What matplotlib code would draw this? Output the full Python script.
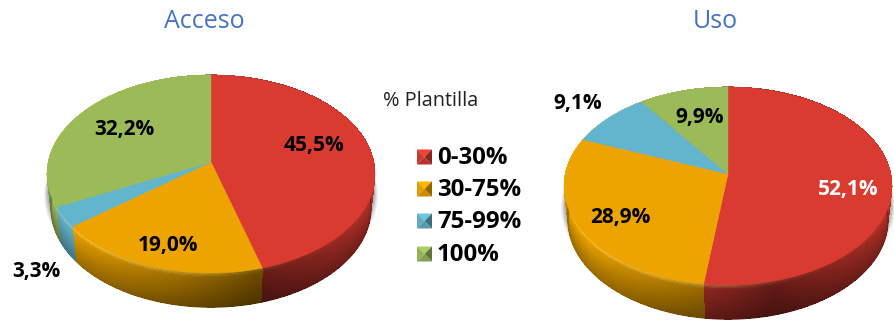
import numpy as np
import matplotlib
matplotlib.use("Agg")
import matplotlib.pyplot as plt
from matplotlib.collections import PolyCollection, LineCollection
from matplotlib.colors import to_rgb

# Data
titles = ["Acceso", "Uso"]
categories = ["0-30%", "30-75%", "75-99%", "100%"]
acceso = [45.5, 19.0, 3.3, 32.2]
uso = [52.1, 28.9, 9.1, 9.9]
colors = ["#DA3B30", "#EDA400", "#62B5CC", "#9BBB59"]
legend_title = "% Plantilla"

# Layout in pixel coordinates
W, H = 894, 323
PIE_GEOM = [(211, 162), (728, 174)]   # point where the slices meet
A, B, Q = 162.8, 97.6, 0.121          # tilted disc projection
DEPTH = 34
BASE_SCALE = 0.975                    # the lower rim edge is slightly narrower
LABEL_XY = [[(314, 146), (168, 245), (36, 272), (124, 130)],
            [(848, 189), (620, 217), (578, 103), (700, 117)]]
LABEL_COL = [["black"] * 4, ["white", "black", "black", "black"]]
TITLE_XY = [(204, 22), (715, 22)]
LEG_Y = [158, 190, 222, 255]

plt.rcParams["font.family"] = ["Open Sans", "DejaVu Sans"]
fig = plt.figure(figsize=(W / 100, H / 100), dpi=100)
ax = fig.add_axes([0, 0, 1, 1])
ax.set_xlim(0, W)
ax.set_ylim(H, 0)
ax.axis("off")


def project(theta, cx, cy, r=1.0):
    """Map a clockwise-from-top disc angle to the tilted, foreshortened disc."""
    u, v = r * np.sin(theta), r * np.cos(theta)
    d = 1 + Q * v
    return cx + A * u / d, cy - B * v / d


def rim_shade(base, t, u):
    """Shade a rim cell: t runs down the rim, u runs left to right."""
    base = np.array(to_rgb(base))
    side = 0.44 + 0.48 * min(1.0, abs(u - 0.25) / 1.05)
    depth = 1.10 - 0.38 * t
    col = base * side * depth
    if t < 0.14:
        glow = 0.6 * (1 - t / 0.14) * np.clip((0.55 - u) / 1.2, 0.05, 1)
        col = col + (np.array([1.0, 0.93, 0.55]) - col) * glow
    return np.clip(col, 0, 1)


def rim_point(theta, cx, cy, t):
    x, y = project(theta, cx, cy)
    return cx + (x - cx) * (1 - (1 - BASE_SCALE) * t), y + DEPTH * t


def draw_pie(values, cx, cy):
    # soft ground shadow
    th = np.linspace(0, 2 * np.pi, 361)
    sx, sy = project(th, cx, cy)
    for grow, alpha in [(3, 0.10), (2, 0.14), (1, 0.2), (0, 0.28)]:
        px = cx + (sx - cx) * (A + grow) / A
        ax.fill(px, sy + DEPTH * 0.55 + grow, color="#808080", alpha=alpha, lw=0, zorder=1)

    edges = np.cumsum([0] + list(values)) / sum(values) * 2 * np.pi
    polys, cols, low_segs, low_cols = [], [], [], []
    ts = np.linspace(0, 1, 29)
    step = np.radians(1.0)
    for i, col in enumerate(colors):
        n = max(2, int((edges[i + 1] - edges[i]) / step))
        angles = np.linspace(edges[i], edges[i + 1], n + 1)
        for a0, a1 in zip(angles[:-1], angles[1:]):
            u = np.sin((a0 + a1) / 2)
            for t0, t1 in zip(ts[:-1], ts[1:]):
                polys.append([rim_point(a0, cx, cy, t0), rim_point(a1, cx, cy, t0),
                              rim_point(a1, cx, cy, t1), rim_point(a0, cx, cy, t1)])
                cols.append(rim_shade(col, (t0 + t1) / 2, u))
            low_segs.append([rim_point(a0, cx, cy, 1), rim_point(a1, cx, cy, 1)])
            low_cols.append(rim_shade(col, 1, u))
    # no antialiasing between cells keeps the rim free of seams; a thin line smooths its lower edge
    ax.add_collection(PolyCollection(polys, facecolors=cols, edgecolors="none",
                                     antialiaseds=False, zorder=2))
    ax.add_collection(LineCollection(low_segs, colors=low_cols, linewidths=1.0, zorder=2.5))

    # top face
    for i, col in enumerate(colors):
        n = max(2, int(np.degrees(edges[i + 1] - edges[i])))
        angles = np.linspace(edges[i], edges[i + 1], n + 1)
        x, y = project(angles, cx, cy)
        ax.fill(np.r_[cx, x], np.r_[cy, y], color=col, lw=0.3, zorder=3)


for vals, (cx, cy), title, txy, lxy, lcol in zip(
        [acceso, uso], PIE_GEOM, titles, TITLE_XY, LABEL_XY, LABEL_COL):
    draw_pie(vals, cx, cy)
    ax.text(*txy, title, color="#4472C4", fontsize=18, ha="center", va="center", zorder=5)
    for v, (x, y), c in zip(vals, lxy, lcol):
        ax.text(x, y, f"{v:.1f}%".replace(".", ","), color=c, fontsize=15, fontweight="bold",
                ha="center", va="center", zorder=5)

ax.text(383, 101, legend_title, color="#222222", fontsize=14.3, ha="left", va="center", zorder=5)

# legend keys are small bevelled squares
for name, col, y in zip(categories, colors, LEG_Y):
    y_key = y - 1
    x0, x1, y0, y1 = 417, 432, y_key - 7.5, y_key + 7.5
    mx, my = (x0 + x1) / 2, (y0 + y1) / 2
    base = np.array(to_rgb(col))
    tone = [(x0, y0, x1, y0, 1.1), (x1, y0, x1, y1, 0.62), (x1, y1, x0, y1, 0.85), (x0, y1, x0, y0, 0.95)]
    for xa, ya, xb, yb, f in tone:
        ax.fill([xa, xb, mx], [ya, yb, my], color=np.clip(base * f, 0, 1), lw=0, zorder=4)
    ax.text(437, y, name, color="black", fontsize=17.3, fontweight="bold", ha="left", va="center", zorder=5)

fig.savefig("out.png", dpi=100)
